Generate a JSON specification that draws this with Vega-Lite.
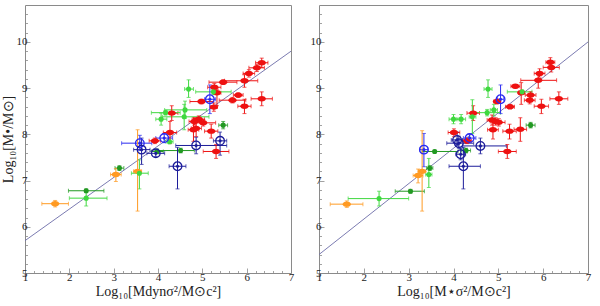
{
  "$schema": "https://vega.github.io/schema/vega-lite/v6.json",
  "padding": {"left": 0, "top": 4, "right": 0, "bottom": 0},
  "spacing": 14,
  "config": {
    "view": {"stroke": "#8a8a8a", "strokeWidth": 1},
    "font": "Liberation Serif",
    "axis": {
      "domain": false, "grid": false, "labelOverlap": false, "labelFlush": false, "tickCount": 1000,
      "labelFont": "Liberation Serif", "labelFontSize": 11, "labelColor": "#222",
      "titleFont": "Liberation Serif", "titleFontSize": 14, "titleFontWeight": "normal", "titleColor": "#222",
      "tickColor": "#8a8a8a", "tickWidth": 0.8
    }
  },
  "datasets": {
    "L": [
      {"g":"red","x":6.34,"y":9.55,"xlo":6.2,"xhi":6.48,"ylo":9.45,"yhi":9.65},
      {"g":"red","x":6.23,"y":9.44,"xlo":6.05,"xhi":6.4,"ylo":9.36,"yhi":9.52},
      {"g":"red","x":6.05,"y":9.32,"xlo":5.92,"xhi":6.18,"ylo":9.24,"yhi":9.4},
      {"g":"red","x":5.95,"y":9.16,"xlo":5.5,"xhi":6.25,"ylo":9.02,"yhi":9.3},
      {"g":"red","x":5.47,"y":9.13,"xlo":5.15,"xhi":5.78,"ylo":9.08,"yhi":9.18},
      {"g":"red","x":5.27,"y":9.02,"xlo":5.12,"xhi":5.42,"ylo":8.95,"yhi":9.1},
      {"g":"red","x":5.33,"y":8.9,"xlo":5.25,"xhi":5.42,"ylo":8.62,"yhi":8.98},
      {"g":"red","x":5.81,"y":8.85,"xlo":5.7,"xhi":5.92,"ylo":8.8,"yhi":8.9},
      {"g":"red","x":5.68,"y":8.74,"xlo":5.38,"xhi":5.98,"ylo":8.68,"yhi":8.8},
      {"g":"red","x":6.34,"y":8.77,"xlo":6.1,"xhi":6.58,"ylo":8.62,"yhi":8.92},
      {"g":"red","x":5.95,"y":8.61,"xlo":5.8,"xhi":6.1,"ylo":8.45,"yhi":8.76},
      {"g":"red","x":5.26,"y":8.59,"xlo":5.18,"xhi":5.34,"ylo":8.5,"yhi":8.68},
      {"g":"red","x":4.98,"y":8.71,"xlo":4.72,"xhi":5.25,"ylo":8.66,"yhi":8.76},
      {"g":"red","x":4.31,"y":8.46,"xlo":4.18,"xhi":4.45,"ylo":8.3,"yhi":8.62},
      {"g":"red","x":4.92,"y":8.33,"xlo":4.8,"xhi":5.05,"ylo":8.26,"yhi":8.4},
      {"g":"red","x":4.82,"y":8.28,"xlo":4.7,"xhi":4.95,"ylo":8.2,"yhi":8.36},
      {"g":"red","x":5.02,"y":8.25,"xlo":4.85,"xhi":5.3,"ylo":8.18,"yhi":8.32},
      {"g":"red","x":4.86,"y":8.13,"xlo":4.75,"xhi":4.98,"ylo":7.95,"yhi":8.3},
      {"g":"red","x":4.8,"y":8.1,"xlo":4.68,"xhi":4.92,"ylo":7.85,"yhi":8.35},
      {"g":"red","x":5.2,"y":8.07,"xlo":5.05,"xhi":5.35,"ylo":7.92,"yhi":8.22},
      {"g":"red","x":4.27,"y":8.04,"xlo":4.12,"xhi":4.42,"ylo":7.8,"yhi":8.28},
      {"g":"red","x":3.93,"y":7.86,"xlo":3.8,"xhi":4.06,"ylo":7.8,"yhi":7.92},
      {"g":"red","x":5.31,"y":7.63,"xlo":5.02,"xhi":5.6,"ylo":7.48,"yhi":7.78},
      {"g":"blue","x":5.17,"y":8.76,"xlo":5.05,"xhi":5.3,"ylo":8.45,"yhi":9.07},
      {"g":"blue","x":3.59,"y":7.81,"xlo":3.18,"xhi":3.86,"ylo":7.65,"yhi":7.98},
      {"g":"blue","x":4.14,"y":7.92,"xlo":3.95,"xhi":4.33,"ylo":7.82,"yhi":8.02},
      {"g":"navy","x":3.63,"y":7.67,"xlo":3.45,"xhi":3.82,"ylo":7.35,"yhi":7.92},
      {"g":"navy","x":3.95,"y":7.59,"xlo":3.75,"xhi":4.15,"ylo":7.52,"yhi":7.66},
      {"g":"navy","x":4.86,"y":7.76,"xlo":4.4,"xhi":5.55,"ylo":7.58,"yhi":7.94},
      {"g":"navy","x":5.4,"y":7.86,"xlo":5.25,"xhi":5.55,"ylo":7.55,"yhi":8.05},
      {"g":"navy","x":4.44,"y":7.31,"xlo":4.25,"xhi":4.63,"ylo":6.82,"yhi":7.72},
      {"g":"green","x":4.69,"y":8.98,"xlo":4.6,"xhi":4.8,"ylo":8.8,"yhi":9.18},
      {"g":"green","x":5.25,"y":8.92,"xlo":4.85,"xhi":5.65,"ylo":8.86,"yhi":8.98},
      {"g":"green","x":4.61,"y":8.53,"xlo":4.15,"xhi":5.1,"ylo":8.35,"yhi":8.72},
      {"g":"green","x":4.17,"y":8.47,"xlo":3.85,"xhi":4.5,"ylo":8.42,"yhi":8.52},
      {"g":"green","x":4.07,"y":8.33,"xlo":3.95,"xhi":4.2,"ylo":8.2,"yhi":8.46},
      {"g":"green","x":4.59,"y":8.38,"xlo":4.1,"xhi":5.15,"ylo":8.1,"yhi":8.65},
      {"g":"green","x":4.26,"y":7.84,"xlo":4.18,"xhi":4.34,"ylo":7.8,"yhi":7.88},
      {"g":"green","x":3.58,"y":7.16,"xlo":3.4,"xhi":3.78,"ylo":6.82,"yhi":7.45},
      {"g":"green","x":2.38,"y":6.62,"xlo":2.0,"xhi":2.85,"ylo":6.45,"yhi":6.78},
      {"g":"dkgreen","x":5.47,"y":8.2,"xlo":5.37,"xhi":5.57,"ylo":8.12,"yhi":8.28},
      {"g":"dkgreen","x":3.98,"y":7.63,"xlo":3.85,"xhi":4.12,"ylo":7.58,"yhi":7.68},
      {"g":"dkgreen","x":4.51,"y":7.65,"xlo":4.0,"xhi":4.82,"ylo":7.6,"yhi":7.7},
      {"g":"dkgreen","x":3.13,"y":7.27,"xlo":3.03,"xhi":3.23,"ylo":7.22,"yhi":7.32},
      {"g":"dkgreen","x":2.38,"y":6.78,"xlo":1.98,"xhi":2.78,"ylo":6.74,"yhi":6.82},
      {"g":"orange","x":1.68,"y":6.5,"xlo":1.38,"xhi":1.98,"ylo":6.43,"yhi":6.57},
      {"g":"orange","x":3.05,"y":7.13,"xlo":2.93,"xhi":3.17,"ylo":6.98,"yhi":7.26},
      {"g":"orange","x":3.54,"y":7.2,"xlo":3.45,"xhi":3.63,"ylo":6.34,"yhi":8.1}
    ],
    "R": [
      {"g":"red","x":6.16,"y":9.56,"xlo":6.06,"xhi":6.26,"ylo":9.46,"yhi":9.66},
      {"g":"red","x":6.18,"y":9.45,"xlo":6.0,"xhi":6.36,"ylo":9.35,"yhi":9.55},
      {"g":"red","x":5.92,"y":9.32,"xlo":5.8,"xhi":6.04,"ylo":9.24,"yhi":9.42},
      {"g":"red","x":5.89,"y":9.17,"xlo":5.5,"xhi":6.3,"ylo":9.0,"yhi":9.3},
      {"g":"red","x":5.38,"y":9.04,"xlo":5.28,"xhi":5.48,"ylo":9.0,"yhi":9.08},
      {"g":"red","x":5.51,"y":8.9,"xlo":5.45,"xhi":5.58,"ylo":8.65,"yhi":9.12},
      {"g":"red","x":5.72,"y":8.85,"xlo":5.6,"xhi":5.84,"ylo":8.78,"yhi":8.92},
      {"g":"red","x":5.7,"y":8.74,"xlo":5.58,"xhi":5.82,"ylo":8.66,"yhi":8.82},
      {"g":"red","x":6.35,"y":8.77,"xlo":6.15,"xhi":6.55,"ylo":8.65,"yhi":8.92},
      {"g":"red","x":5.96,"y":8.61,"xlo":5.8,"xhi":6.12,"ylo":8.45,"yhi":8.76},
      {"g":"red","x":5.26,"y":8.6,"xlo":5.16,"xhi":5.36,"ylo":8.55,"yhi":8.65},
      {"g":"red","x":4.97,"y":8.71,"xlo":4.9,"xhi":5.05,"ylo":8.66,"yhi":8.76},
      {"g":"red","x":4.44,"y":8.46,"xlo":4.3,"xhi":4.58,"ylo":8.3,"yhi":8.62},
      {"g":"red","x":4.86,"y":8.31,"xlo":4.75,"xhi":4.97,"ylo":8.2,"yhi":8.42},
      {"g":"red","x":4.94,"y":8.28,"xlo":4.82,"xhi":5.06,"ylo":8.2,"yhi":8.36},
      {"g":"red","x":5.01,"y":8.26,"xlo":4.9,"xhi":5.15,"ylo":8.18,"yhi":8.34},
      {"g":"red","x":4.88,"y":8.1,"xlo":4.76,"xhi":5.0,"ylo":7.9,"yhi":8.3},
      {"g":"red","x":5.25,"y":8.07,"xlo":5.1,"xhi":5.4,"ylo":7.9,"yhi":8.22},
      {"g":"red","x":5.49,"y":8.11,"xlo":5.35,"xhi":5.63,"ylo":7.85,"yhi":8.36},
      {"g":"red","x":4.01,"y":8.04,"xlo":3.88,"xhi":4.14,"ylo":7.95,"yhi":8.12},
      {"g":"red","x":4.3,"y":7.86,"xlo":4.2,"xhi":4.4,"ylo":7.8,"yhi":7.92},
      {"g":"red","x":5.2,"y":7.63,"xlo":5.0,"xhi":5.4,"ylo":7.48,"yhi":7.78},
      {"g":"blue","x":5.05,"y":8.76,"xlo":4.98,"xhi":5.12,"ylo":8.45,"yhi":9.07},
      {"g":"blue","x":3.34,"y":7.67,"xlo":3.25,"xhi":3.43,"ylo":7.3,"yhi":8.02},
      {"g":"blue","x":4.36,"y":7.92,"xlo":4.22,"xhi":4.5,"ylo":7.84,"yhi":8.0},
      {"g":"navy","x":4.12,"y":7.81,"xlo":3.85,"xhi":4.45,"ylo":7.7,"yhi":7.96},
      {"g":"navy","x":4.08,"y":7.88,"xlo":3.95,"xhi":4.2,"ylo":7.75,"yhi":8.05},
      {"g":"navy","x":4.16,"y":7.57,"xlo":4.05,"xhi":4.27,"ylo":7.45,"yhi":7.7},
      {"g":"navy","x":4.6,"y":7.75,"xlo":4.2,"xhi":5.18,"ylo":7.58,"yhi":7.92},
      {"g":"navy","x":4.22,"y":7.31,"xlo":3.9,"xhi":4.6,"ylo":6.82,"yhi":7.72},
      {"g":"green","x":4.77,"y":8.98,"xlo":4.68,"xhi":4.86,"ylo":8.8,"yhi":9.18},
      {"g":"green","x":5.53,"y":8.92,"xlo":5.2,"xhi":5.75,"ylo":8.88,"yhi":8.96},
      {"g":"green","x":4.9,"y":8.53,"xlo":4.82,"xhi":4.98,"ylo":8.4,"yhi":8.65},
      {"g":"green","x":4.75,"y":8.47,"xlo":4.45,"xhi":5.05,"ylo":8.4,"yhi":8.54},
      {"g":"green","x":4.42,"y":8.38,"xlo":4.35,"xhi":4.5,"ylo":8.02,"yhi":8.75},
      {"g":"green","x":4.17,"y":8.33,"xlo":4.07,"xhi":4.27,"ylo":8.23,"yhi":8.43},
      {"g":"green","x":4.0,"y":8.33,"xlo":3.9,"xhi":4.1,"ylo":8.23,"yhi":8.43},
      {"g":"green","x":3.45,"y":7.13,"xlo":3.38,"xhi":3.52,"ylo":6.85,"yhi":7.48},
      {"g":"green","x":2.34,"y":6.61,"xlo":1.65,"xhi":3.0,"ylo":6.45,"yhi":6.77},
      {"g":"dkgreen","x":5.72,"y":8.2,"xlo":5.62,"xhi":5.82,"ylo":8.14,"yhi":8.26},
      {"g":"dkgreen","x":3.58,"y":7.63,"xlo":3.3,"xhi":4.1,"ylo":7.6,"yhi":7.66},
      {"g":"dkgreen","x":4.28,"y":7.65,"xlo":4.18,"xhi":4.38,"ylo":7.6,"yhi":7.7},
      {"g":"dkgreen","x":3.47,"y":7.27,"xlo":3.4,"xhi":3.54,"ylo":7.22,"yhi":7.32},
      {"g":"dkgreen","x":3.04,"y":6.77,"xlo":2.7,"xhi":3.35,"ylo":6.73,"yhi":6.81},
      {"g":"orange","x":1.62,"y":6.49,"xlo":1.25,"xhi":1.98,"ylo":6.42,"yhi":6.56},
      {"g":"orange","x":3.21,"y":7.11,"xlo":3.1,"xhi":3.32,"ylo":6.95,"yhi":7.25},
      {"g":"orange","x":3.3,"y":7.2,"xlo":3.22,"xhi":3.38,"ylo":6.34,"yhi":8.08}
    ],
    "lineL": [{"x": 1, "y": 5.7}, {"x": 7, "y": 9.8}],
    "lineR": [{"x": 1, "y": 5.4}, {"x": 7, "y": 10.0}]
  },
  "hconcat": [
    {
      "width": 266, "height": 268,
      "data": {"name": "L"},
      "layer": [
        {
          "data": {"name": "lineL"},
          "mark": {"type": "line", "color": "#6c6ca8", "strokeWidth": 0.9},
          "encoding": {
            "x": {"field": "x", "type": "quantitative", "title": "Log₁₀[Mdynσ²/M⊙c²]", "scale": {"domain": [1, 7], "nice": false, "zero": false},
              "axis": {"values": [1,1.2,1.4,1.6,1.8,2,2.2,2.4,2.6,2.8,3,3.2,3.4,3.6,3.8,4,4.2,4.4,4.6,4.8,5,5.2,5.4,5.6,5.8,6,6.2,6.4,6.6,6.8,7],
                "labelExpr": "datum.value % 1 === 0 ? '' + datum.value : ''",
                "tickSize": {"condition": {"test": "datum.value % 1 === 0", "value": -5}, "value": -2.5},
                "labelPadding": 3, "titlePadding": 0}},
            "y": {"field": "y", "type": "quantitative", "title": "Log₁₀[M•/M⊙]", "scale": {"domain": [5, 10.8], "nice": false, "zero": false},
              "axis": {"values": [5,5.2,5.4,5.6,5.8,6,6.2,6.4,6.6,6.8,7,7.2,7.4,7.6,7.8,8,8.2,8.4,8.6,8.8,9,9.2,9.4,9.6,9.8,10,10.2,10.4,10.6],
                "labelExpr": "datum.value % 1 === 0 ? '' + datum.value : ''",
                "tickSize": {"condition": {"test": "datum.value % 1 === 0", "value": -5}, "value": -2.5},
                "labelPadding": 3, "titlePadding": 1}}
          }
        },
        {
          "mark": {"type": "errorbar", "ticks": {"size": 4}, "thickness": 1},
          "encoding": {
            "x": {"field": "xlo", "type": "quantitative", "title": "Log₁₀[Mdynσ²/M⊙c²]"},
            "x2": {"field": "xhi"},
            "y": {"field": "y", "type": "quantitative", "title": "Log₁₀[M•/M⊙]"},
            "color": {"field": "g", "type": "nominal", "legend": null,
              "scale": {"domain": ["red","green","dkgreen","blue","navy","orange"], "range": ["#ee1111","#3fd83f","#229922","#2a2af0","#1c1c9a","#ff9a22"]}}
          }
        },
        {
          "mark": {"type": "errorbar", "ticks": {"size": 4}, "thickness": 1},
          "encoding": {
            "y": {"field": "ylo", "type": "quantitative", "title": "Log₁₀[M•/M⊙]"},
            "y2": {"field": "yhi"},
            "x": {"field": "x", "type": "quantitative", "title": "Log₁₀[Mdynσ²/M⊙c²]"},
            "color": {"field": "g", "type": "nominal", "legend": null}
          }
        },
        {
          "transform": [{"filter": "datum.g === 'red' || datum.g === 'orange'"}],
          "mark": {"type": "point", "filled": true, "opacity": 1, "size": 70, "shape": "M-1,0A1,0.65,0,1,0,1,0A1,0.65,0,1,0,-1,0Z"},
          "encoding": {
            "x": {"field": "x", "type": "quantitative", "title": "Log₁₀[Mdynσ²/M⊙c²]"},
            "y": {"field": "y", "type": "quantitative", "title": "Log₁₀[M•/M⊙]"},
            "color": {"field": "g", "type": "nominal", "legend": null}
          }
        },
        {
          "transform": [{"filter": "datum.g === 'green' || datum.g === 'dkgreen'"}],
          "mark": {"type": "point", "filled": true, "opacity": 1, "size": 26, "shape": "circle"},
          "encoding": {
            "x": {"field": "x", "type": "quantitative", "title": "Log₁₀[Mdynσ²/M⊙c²]"},
            "y": {"field": "y", "type": "quantitative", "title": "Log₁₀[M•/M⊙]"},
            "color": {"field": "g", "type": "nominal", "legend": null}
          }
        },
        {
          "transform": [{"filter": "datum.g === 'blue' || datum.g === 'navy'"}],
          "mark": {"type": "point", "filled": false, "opacity": 1, "size": 75, "strokeWidth": 1.3, "shape": "circle"},
          "encoding": {
            "x": {"field": "x", "type": "quantitative", "title": "Log₁₀[Mdynσ²/M⊙c²]"},
            "y": {"field": "y", "type": "quantitative", "title": "Log₁₀[M•/M⊙]"},
            "color": {"field": "g", "type": "nominal", "legend": null}
          }
        },
        {
          "transform": [{"filter": "datum.g === 'blue' || datum.g === 'navy'"}],
          "mark": {"type": "point", "filled": true, "opacity": 1, "size": 10, "shape": "circle"},
          "encoding": {
            "x": {"field": "x", "type": "quantitative", "title": "Log₁₀[Mdynσ²/M⊙c²]"},
            "y": {"field": "y", "type": "quantitative", "title": "Log₁₀[M•/M⊙]"},
            "color": {"field": "g", "type": "nominal", "legend": null}
          }
        }
      ]
    },
    {
      "width": 269, "height": 268,
      "data": {"name": "R"},
      "layer": [
        {
          "data": {"name": "lineR"},
          "mark": {"type": "line", "color": "#6c6ca8", "strokeWidth": 0.9},
          "encoding": {
            "x": {"field": "x", "type": "quantitative", "title": "Log₁₀[M⋆σ²/M⊙c²]", "scale": {"domain": [1, 7], "nice": false, "zero": false},
              "axis": {"values": [1,1.2,1.4,1.6,1.8,2,2.2,2.4,2.6,2.8,3,3.2,3.4,3.6,3.8,4,4.2,4.4,4.6,4.8,5,5.2,5.4,5.6,5.8,6,6.2,6.4,6.6,6.8,7],
                "labelExpr": "datum.value % 1 === 0 ? '' + datum.value : ''",
                "tickSize": {"condition": {"test": "datum.value % 1 === 0", "value": -5}, "value": -2.5},
                "labelPadding": 3, "titlePadding": 0}},
            "y": {"field": "y", "type": "quantitative", "title": "", "scale": {"domain": [5, 10.8], "nice": false, "zero": false},
              "axis": {"values": [5,5.2,5.4,5.6,5.8,6,6.2,6.4,6.6,6.8,7,7.2,7.4,7.6,7.8,8,8.2,8.4,8.6,8.8,9,9.2,9.4,9.6,9.8,10,10.2,10.4,10.6],
                "labelExpr": "datum.value % 1 === 0 ? '' + datum.value : ''",
                "tickSize": {"condition": {"test": "datum.value % 1 === 0", "value": -5}, "value": -2.5},
                "labelPadding": 3, "titlePadding": 0}}
          }
        },
        {
          "mark": {"type": "errorbar", "ticks": {"size": 4}, "thickness": 1},
          "encoding": {
            "x": {"field": "xlo", "type": "quantitative", "title": "Log₁₀[M⋆σ²/M⊙c²]"},
            "x2": {"field": "xhi"},
            "y": {"field": "y", "type": "quantitative", "title": ""},
            "color": {"field": "g", "type": "nominal", "legend": null,
              "scale": {"domain": ["red","green","dkgreen","blue","navy","orange"], "range": ["#ee1111","#3fd83f","#229922","#2a2af0","#1c1c9a","#ff9a22"]}}
          }
        },
        {
          "mark": {"type": "errorbar", "ticks": {"size": 4}, "thickness": 1},
          "encoding": {
            "y": {"field": "ylo", "type": "quantitative", "title": ""},
            "y2": {"field": "yhi"},
            "x": {"field": "x", "type": "quantitative", "title": "Log₁₀[M⋆σ²/M⊙c²]"},
            "color": {"field": "g", "type": "nominal", "legend": null}
          }
        },
        {
          "transform": [{"filter": "datum.g === 'red' || datum.g === 'orange'"}],
          "mark": {"type": "point", "filled": true, "opacity": 1, "size": 70, "shape": "M-1,0A1,0.65,0,1,0,1,0A1,0.65,0,1,0,-1,0Z"},
          "encoding": {
            "x": {"field": "x", "type": "quantitative", "title": "Log₁₀[M⋆σ²/M⊙c²]"},
            "y": {"field": "y", "type": "quantitative", "title": ""},
            "color": {"field": "g", "type": "nominal", "legend": null}
          }
        },
        {
          "transform": [{"filter": "datum.g === 'green' || datum.g === 'dkgreen'"}],
          "mark": {"type": "point", "filled": true, "opacity": 1, "size": 26, "shape": "circle"},
          "encoding": {
            "x": {"field": "x", "type": "quantitative", "title": "Log₁₀[M⋆σ²/M⊙c²]"},
            "y": {"field": "y", "type": "quantitative", "title": ""},
            "color": {"field": "g", "type": "nominal", "legend": null}
          }
        },
        {
          "transform": [{"filter": "datum.g === 'blue' || datum.g === 'navy'"}],
          "mark": {"type": "point", "filled": false, "opacity": 1, "size": 75, "strokeWidth": 1.3, "shape": "circle"},
          "encoding": {
            "x": {"field": "x", "type": "quantitative", "title": "Log₁₀[M⋆σ²/M⊙c²]"},
            "y": {"field": "y", "type": "quantitative", "title": ""},
            "color": {"field": "g", "type": "nominal", "legend": null}
          }
        },
        {
          "transform": [{"filter": "datum.g === 'blue' || datum.g === 'navy'"}],
          "mark": {"type": "point", "filled": true, "opacity": 1, "size": 10, "shape": "circle"},
          "encoding": {
            "x": {"field": "x", "type": "quantitative", "title": "Log₁₀[M⋆σ²/M⊙c²]"},
            "y": {"field": "y", "type": "quantitative", "title": ""},
            "color": {"field": "g", "type": "nominal", "legend": null}
          }
        }
      ]
    }
  ]
}
